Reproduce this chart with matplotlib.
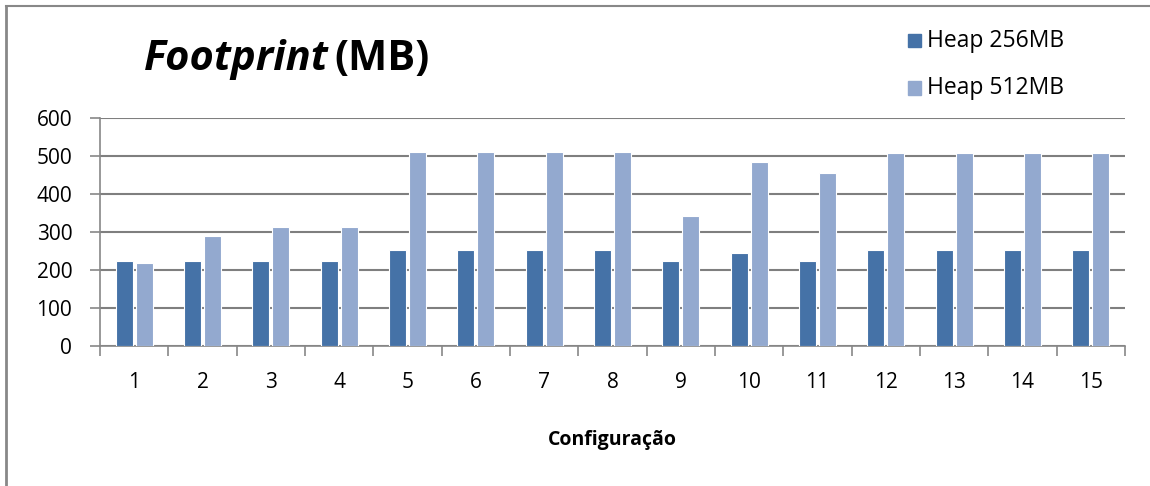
import matplotlib
matplotlib.use("Agg")
import matplotlib.pyplot as plt
import numpy as np
from matplotlib.lines import Line2D
from matplotlib.patches import Rectangle

categories = [str(i) for i in range(1, 16)]
heap_256 = [225, 225, 225, 225, 252, 252, 252, 252, 225, 245, 225, 252, 252, 252, 252]
heap_512 = [218, 290, 312, 312, 510, 510, 510, 510, 342, 485, 455, 507, 507, 507, 507]
series_names = ["Heap 256MB", "Heap 512MB"]
y_ticks = [0, 100, 200, 300, 400, 500, 600]

plt.rcParams['font.family'] = ['Open Sans', 'DejaVu Sans']

W, H = 1150, 486
fig = plt.figure(figsize=(W / 100, H / 100), dpi=100)
ax = fig.add_axes([100 / W, 1 - 346 / H, 1025 / W, (346 - 118) / H])

x = np.arange(len(categories))
bw = 0.25
c1, c2 = "#4572A7", "#93A9CF"
ax.bar(x - 0.145, heap_256, bw, color=c1, edgecolor="white", linewidth=0.8, zorder=3, label=series_names[0])
ax.bar(x + 0.145, heap_512, bw, color=c2, edgecolor="white", linewidth=0.8, zorder=3, label=series_names[1])

ax.set_xlim(-0.5, len(categories) - 0.5)
ax.set_ylim(0, 600)
ax.set_yticks(y_ticks)
ax.set_yticklabels([str(v) for v in y_ticks], fontsize=15)
ax.set_xticks(x)
ax.set_xticklabels(categories, fontsize=15)
ax.set_xticks(np.arange(-0.5, len(categories), 1), minor=True)
ax.tick_params(axis='x', which='major', length=0, pad=19)
ax.tick_params(axis='x', which='minor', length=7, color="#888888", width=1.2)
ax.tick_params(axis='y', length=7, color="#888888", width=1.2, pad=13)
ax.grid(axis='y', color="#7f7f7f", linewidth=1.5, zorder=0)
for s in ['top', 'right']:
    ax.spines[s].set_visible(False)
for s in ['left', 'bottom']:
    ax.spines[s].set_color("#888888")
    ax.spines[s].set_linewidth(1.2)

ax.set_xlabel("Configuração", fontsize=14, fontweight='bold', labelpad=26)

# title in two parts
t1 = fig.text(144 / W, 1 - 60 / H, "Footprint", fontsize=30, fontweight='bold', style='italic', va='center', ha='left')
fig.canvas.draw()
bb = t1.get_window_extent()
fig.text((bb.x1 + 6) / W, 1 - 60 / H, "(MB)", fontsize=30, fontweight='bold', va='center', ha='left')

# legend
for i, (name, col) in enumerate(zip(series_names, [c1, c2])):
    yy = 1 - (41 + i * 47) / H
    fig.patches.append(Rectangle((908 / W, yy - 6.5 / H), 13 / W, 13 / H, transform=fig.transFigure, color=col))
    fig.text(927 / W, yy, name, fontsize=16.5, va='center', ha='left')

# outer border
fig.add_artist(Line2D([6 / W, 1], [1 - 6 / H, 1 - 6 / H], transform=fig.transFigure, color="#888888", linewidth=1.5))
fig.add_artist(Line2D([6 / W, 6 / W], [0, 1 - 6 / H], transform=fig.transFigure, color="#888888", linewidth=2))

fig.savefig("out.png", dpi=100)
